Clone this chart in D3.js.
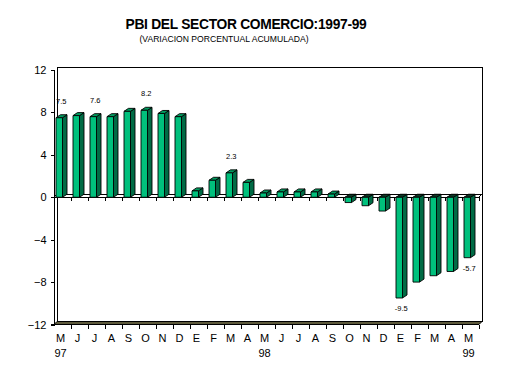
<!DOCTYPE html>
<html><head><meta charset="utf-8">
<script src="https://cdn.jsdelivr.net/npm/d3@7/dist/d3.min.js"></script>
<style>body{margin:0;background:#fff}svg{display:block;font-family:"Liberation Sans",Arial,sans-serif}</style>
</head><body><svg id="c" width="515" height="372"></svg>
<script>
const months = ["M","J","J","A","S","O","N","D","E","F","M","A","M","J","J","A","S","O","N","D","E","F","M","A","M"];
const years = [{i:0,t:"97"},{i:12,t:"98"},{i:24,t:"99"}];
const values = [7.5,7.7,7.6,7.6,8.1,8.2,7.9,7.6,0.6,1.6,2.3,1.4,0.4,0.5,0.5,0.5,0.3,-0.5,-0.8,-1.3,-9.5,-8.0,-7.4,-7.0,-5.7];
const labelled = [0,2,5,10,20,24];
const labelText = ["7.5","7.6","8.2","2.3","-9.5","-5.7"];
const yTicks = [12,8,4,0,-4,-8,-12];

const svg = d3.select("#c");
const x = d3.scaleBand().domain(d3.range(months.length)).range([54,479]).padding(0);
const y = d3.scaleLinear().domain([-12,12]).range([324.5,70]);
const DX = 3, DY = 3, BDX = 4.5, BDY = 3;
const y0 = y(0);

// title
svg.append("text").attr("x",246).attr("y",29).attr("text-anchor","middle")
  .attr("font-size","13.8px").attr("font-weight","bold").attr("letter-spacing","-0.3px")
  .text("PBI DEL SECTOR COMERCIO:1997-99");
svg.append("text").attr("x",224).attr("y",42).attr("text-anchor","middle")
  .attr("font-size","8.6px")
  .text("(VARIACION PORCENTUAL ACUMULADA)");

const g = svg.append("g").attr("shape-rendering","crispEdges");
// back wall frame
g.append("path").attr("fill","none").attr("stroke","#000")
  .attr("d",`M${54+DX},${y(-12)-DY}V${y(12)-DY}H${479+DX}V${y(-12)-DY}`);
// floor band
svg.append("path").attr("fill","#5e5a3c").attr("stroke","#000").attr("stroke-width",1)
  .attr("d",`M54,${y(-12)}L${54+DX},${y(-12)-DY}H${479+DX}L479,${y(-12)}Z`);
// left axis
const yAxis = d3.axisLeft(y).tickValues(yTicks).tickSize(4).tickFormat(d3.format("d"));
const ya = svg.append("g").attr("transform","translate(54.5,0)").call(yAxis);
ya.select(".domain").attr("d",`M-4,${y(12)}H0V${y(-12)}H-4`);
ya.selectAll("text").attr("font-size","11px").attr("font-family","Liberation Sans,Arial,sans-serif").attr("dx","-1");
ya.attr("shape-rendering","crispEdges");

// zero plane
g.append("path").attr("fill","#fff").attr("stroke","#000")
  .attr("d",`M54,${y0}L${54+DX},${y0-DY}H${479+DX}L479,${y0}Z`);

// bars
const bars = svg.append("g");
values.forEach((v,i)=>{
  const x0 = x(i)+2, w = 6.5;
  const yt = y(Math.max(v,0)), yb = y(Math.min(v,0));
  const gb = bars.append("g").attr("stroke","#000").attr("stroke-width",0.9).attr("stroke-linejoin","round");
  gb.append("path").attr("fill","#006b45")
    .attr("d",`M${x0+w},${yt}L${x0+w+BDX},${yt-BDY}V${yb-BDY}L${x0+w},${yb}Z`);
  gb.append("path").attr("fill", v>=0 ? "#009a5e" : "#0d3a26")
    .attr("d",`M${x0},${yt}L${x0+BDX},${yt-BDY}H${x0+w+BDX}L${x0+w},${yt}Z`);
  gb.append("rect").attr("x",x0).attr("y",yt).attr("width",w).attr("height",Math.max(0.5,yb-yt)).attr("fill","#00c07c");
});

// category ticks at zero and bottom
const bounds = d3.range(1,months.length+1).map(i=>54+i*x.bandwidth());
svg.append("g").attr("shape-rendering","crispEdges").selectAll("line.zt").data(bounds).join("line")
  .attr("x1",d=>d).attr("x2",d=>d).attr("y1",y0).attr("y2",y0+4).attr("stroke","#000");
svg.append("g").attr("shape-rendering","crispEdges").selectAll("line.bt").data(bounds).join("line")
  .attr("x1",d=>d).attr("x2",d=>d).attr("y1",y(-12)).attr("y2",y(-12)+4).attr("stroke","#000");

// month labels
svg.append("g").selectAll("text").data(months).join("text")
  .attr("x",(d,i)=>x(i)+6.5).attr("y",342).attr("text-anchor","middle").attr("font-size","11px").text(d=>d);
svg.append("g").selectAll("text").data(years).join("text")
  .attr("x",d=>x(d.i)+6.5).attr("y",357).attr("text-anchor","middle").attr("font-size","11px").text(d=>d.t);

// value labels
svg.append("g").selectAll("text").data(labelled).join("text")
  .attr("x",i=>x(i)+2+3.25+2)
  .attr("y",i=>values[i]>=0 ? y(values[i])-14 : y(values[i])+13)
  .attr("text-anchor","middle").attr("font-size","7.5px")
  .text((d,k)=>labelText[k]);
</script></body></html>
